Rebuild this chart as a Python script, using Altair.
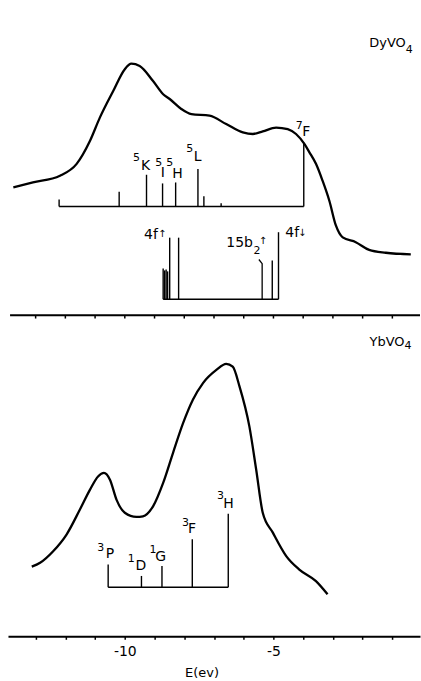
import altair as alt
import pandas as pd

# ---------------- data (E in eV, intensity in arbitrary units) ----------------
# DyVO4 photoemission curve (top panel)
dy_E = [-13.75, -13.09, -12.18, -11.62, -11.17, -10.84, -10.39, -10.00, -9.78, -9.50,
        -9.05, -8.71, -8.49, -8.10, -7.76, -7.15, -6.59, -6.03, -5.69, -5.36,
        -4.91, -4.52, -4.24, -3.96, -3.79, -3.57, -3.35, -3.12, -2.90, -2.67,
        -2.23, -1.78, -1.22, -0.38]
dy_I = [39.9, 41.4, 43.5, 47.2, 54.4, 61.6, 69.9, 76.7, 78.4, 77.7,
        73.0, 68.9, 67.4, 64.3, 62.7, 62.2, 59.6, 57.0, 56.5, 57.3,
        58.5, 58.0, 56.5, 53.4, 50.8, 47.2, 42.0, 35.7, 28.0, 24.3,
        22.8, 20.4, 19.5, 19.0]

# YbVO4 photoemission curve (bottom panel)
yb_E = [-13.13, -12.85, -12.41, -11.96, -11.51, -11.17, -10.90, -10.70, -10.50, -10.28,
        -10.00, -9.61, -9.39, -9.05, -8.71, -8.38, -8.04, -7.71, -7.37, -6.92,
        -6.59, -6.37, -6.14, -5.81, -5.58, -5.36, -5.02, -4.57, -4.13, -3.57, -3.18]
yb_I = [21.7, 22.9, 26.5, 31.7, 39.5, 45.7, 49.8, 50.9, 48.8, 42.6,
        38.5, 37.2, 37.4, 40.5, 47.8, 57.1, 66.4, 73.7, 78.9, 83.0,
        84.9, 84.0, 77.8, 65.4, 51.9, 38.5, 32.3, 25.0, 20.8, 17.2, 13.1]

# DyVO4 final-state multiplet (upper stick diagram)
dy_lvl_E = [-12.21, -10.19, -9.27, -8.73, -8.29, -7.54, -7.34, -6.76, -3.98]
dy_lvl_I = [36.1, 38.5, 43.8, 41.1, 41.4, 45.6, 37.1, 34.9, 53.8]
dy_lvl_base = 33.9

# DyVO4 cluster levels (lower stick diagram)
dy_mo_E = [-8.71, -8.66, -8.61, -8.56, -8.49, -8.19, -5.04, -4.83]
dy_mo_I = [14.6, 14.0, 14.3, 13.7, 24.2, 24.2, 17.1, 25.9]
dy_mo_base = 5.0
kink_E = [-5.49, -5.38, -5.38]
kink_I = [17.4, 16.1, 5.0]

# YbVO4 final-state multiplet
yb_lvl_E = [-10.56, -9.44, -8.75, -7.73, -6.52]
yb_lvl_I = [22.4, 18.8, 21.9, 30.2, 38.2]
yb_lvl_base = 15.3

# term labels: main letters, superscripts
top_let = ["K", "I", "H", "L", "F"]
top_let_E = [-9.30, -8.72, -8.23, -7.55, -3.90]
top_let_I = [46.6, 44.5, 44.1, 49.2, 57.0]
top_sup = ["5", "5", "5", "5", "7"]
top_sup_E = [-9.61, -8.86, -8.49, -7.82, -4.13]
top_sup_I = [49.1, 47.6, 47.6, 51.8, 59.1]

bot_let = ["P", "D", "G", "F", "H"]
bot_let_E = [-10.50, -9.46, -8.79, -7.74, -6.51]
bot_let_I = [25.5, 21.9, 24.8, 33.3, 41.3]
bot_sup = ["3", "1", "1", "3", "3"]
bot_sup_E = [-10.81, -9.78, -9.05, -7.96, -6.78]
bot_sup_I = [27.6, 24.2, 27.0, 35.3, 43.6]

# orbital labels of the lower DyVO4 diagram
orb_right = ["4f", "15b", "DyVO"]
orb_right_E = [-8.89, -5.69, -0.55]
orb_right_I = [24.9, 22.4, 84.8]
orb_left = ["4f", "2", "4"]
orb_left_E = [-4.60, -5.67, -0.55]
orb_left_I = [25.5, 20.2, 82.7]
arrows = ["↑", "↑", "↓"]
arrow_E = [-8.74, -5.35, -4.03]
arrow_I = [25.2, 23.3, 25.5]

yb_name = ["YbVO"]
yb_name_E = [-0.59]
yb_name_I = [91.7]
yb_sub = ["4"]
yb_sub_E = [-0.59]
yb_sub_I = [90.6]

axis_ticks = list(range(-13, 0))

TOP = 100.0  # vertical offset of the upper panel
XMIN, XMAX = -13.93, -0.07
FONT = "DejaVu Sans"

# ---------------- tables ----------------
curves = pd.concat([
    pd.DataFrame({"E": dy_E, "y": [TOP + v for v in dy_I], "s": "DyVO4"}),
    pd.DataFrame({"E": yb_E, "y": yb_I, "s": "YbVO4"}),
])

sticks = pd.concat([
    pd.DataFrame({"E": dy_lvl_E, "y": TOP + dy_lvl_base, "y2": [TOP + v for v in dy_lvl_I]}),
    pd.DataFrame({"E": dy_mo_E, "y": TOP + dy_mo_base, "y2": [TOP + v for v in dy_mo_I]}),
    pd.DataFrame({"E": yb_lvl_E, "y": yb_lvl_base, "y2": yb_lvl_I}),
])

bases = pd.DataFrame({
    "E": [min(dy_lvl_E), min(dy_mo_E), min(yb_lvl_E)],
    "E2": [max(dy_lvl_E), max(dy_mo_E), max(yb_lvl_E)],
    "y": [TOP + dy_lvl_base, TOP + dy_mo_base, yb_lvl_base],
})

kink = pd.DataFrame({"E": kink_E, "y": [TOP + v for v in kink_I], "o": list(range(len(kink_E)))})

mid_axis = pd.DataFrame({"E": [-13.86], "E2": [XMAX], "y": [TOP]})
mid_ticks = pd.DataFrame({"E": axis_ticks, "y": TOP, "y2": TOP - 1.0})

def tdf(texts, es, ys, off):
    return pd.DataFrame({"t": texts, "E": es, "y": [off + v for v in ys]})

letters = pd.concat([tdf(top_let, top_let_E, top_let_I, TOP), tdf(bot_let, bot_let_E, bot_let_I, 0)])
sups = pd.concat([tdf(top_sup, top_sup_E, top_sup_I, TOP), tdf(bot_sup, bot_sup_E, bot_sup_I, 0)])
rtext = pd.concat([tdf(orb_right[:2], orb_right_E[:2], orb_right_I[:2], TOP)])
ltext = tdf(orb_left[:1], orb_left_E[:1], orb_left_I[:1], TOP)
subs = pd.concat([tdf(orb_left[1:], orb_left_E[1:], orb_left_I[1:], TOP),
                  tdf(yb_sub, yb_sub_E, yb_sub_I, 0)])
names = pd.concat([tdf(orb_right[2:], orb_right_E[2:], orb_right_I[2:], TOP),
                   tdf(yb_name, yb_name_E, yb_name_I, 0)])
arr = tdf(arrows, arrow_E, arrow_I, TOP)

# ---------------- encodings ----------------
xscale = alt.Scale(domain=[XMIN, XMAX], nice=False, zero=False)
yscale = alt.Scale(domain=[0, 198], nice=False, zero=False)
xaxis = alt.Axis(
    values=axis_ticks,
    labelExpr="(datum.value % 5 === 0) ? toString(datum.value) : ''",
    title="E(ev)", grid=False, domainColor="black", domainWidth=2,
    tickColor="black", tickWidth=1.5, tickSize=3, labelPadding=5,
    labelFont=FONT, labelFontSize=14, labelColor="black",
    titleFont=FONT, titleFontSize=13, titleFontWeight="normal", titleColor="black",
    titleX=194, titleY=40, titleBaseline="alphabetic",
)
X = alt.X("E:Q", scale=xscale, axis=xaxis)
Y = alt.Y("y:Q", scale=yscale, axis=None)

curve_layer = alt.Chart(curves).mark_line(
    color="black", strokeWidth=2.3, interpolate="monotone"
).encode(x=X, y=Y, detail="s:N")

stick_layer = alt.Chart(sticks).mark_rule(color="black", strokeWidth=1.4).encode(
    x=X, y=Y, y2="y2:Q")

base_layer = alt.Chart(bases).mark_rule(color="black", strokeWidth=1.4).encode(
    x=X, x2="E2:Q", y=Y)

kink_layer = alt.Chart(kink).mark_line(color="black", strokeWidth=1.3).encode(
    x=X, y=Y, order="o:Q")

mid_axis_layer = alt.Chart(mid_axis).mark_rule(color="black", strokeWidth=2).encode(
    x=X, x2="E2:Q", y=Y)
mid_tick_layer = alt.Chart(mid_ticks).mark_rule(color="black", strokeWidth=1.5).encode(
    x=X, y=Y, y2="y2:Q")

def txt(df, size, align="center"):
    return alt.Chart(df).mark_text(
        font=FONT, fontSize=size, align=align, baseline="middle", color="black"
    ).encode(x=X, y=Y, text="t:N")

chart = alt.layer(
    curve_layer, stick_layer, base_layer, kink_layer, mid_axis_layer, mid_tick_layer,
    txt(letters, 14), txt(sups, 11), txt(rtext, 14, "right"), txt(ltext, 14, "left"),
    txt(subs, 11, "left"), txt(names, 13, "right"), txt(arr, 10),
).properties(
    width=413, height=637,
    padding={"left": 8, "right": 0, "top": 0, "bottom": 0},
).configure_view(stroke=None)

chart.save("out.html", embed_options={"renderer": "svg", "actions": False})
